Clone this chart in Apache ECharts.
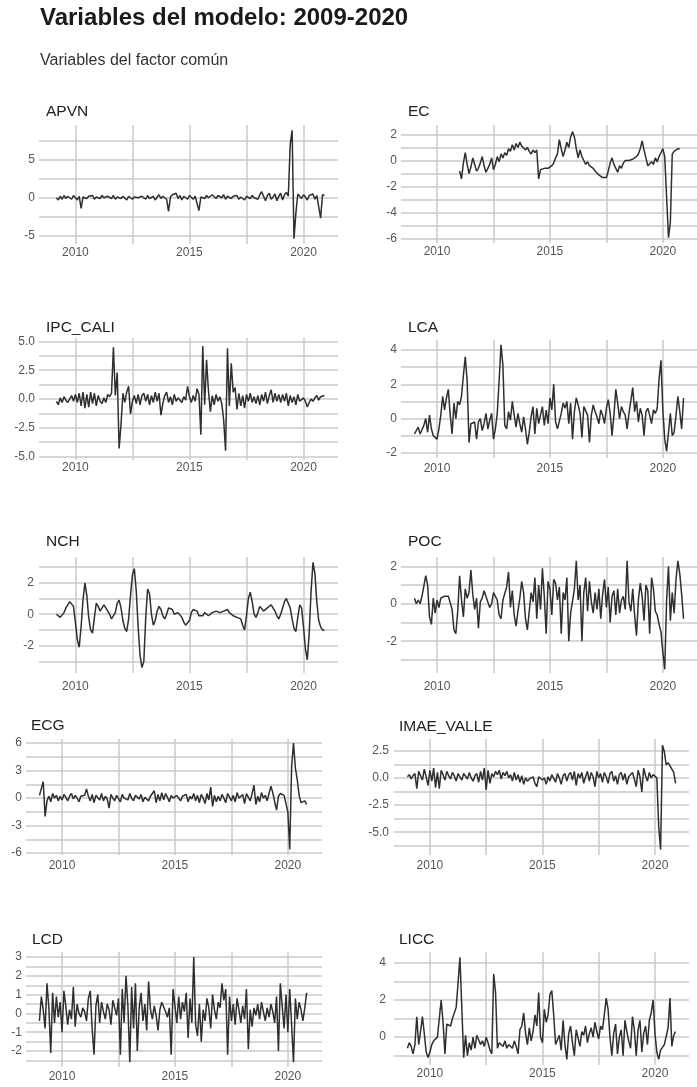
<!DOCTYPE html>
<html><head><meta charset="utf-8">
<script src="https://cdn.jsdelivr.net/npm/echarts@6/dist/echarts.min.js"></script>
<style>html,body{margin:0;padding:0;background:#fff}#c{width:697px;height:1087px}</style>
</head><body><div id="c"></div>
<script>
// Monthly observations, Jan 2009 .. Dec 2020 (12 values per row = one year)
const startYear = 2009;

const APVN = [
 null, null, 0.0, -0.3, 0.2, -0.2, 0.3, -0.1, 0.2, 0.1, -0.2, 0.3,
 0.1, -0.3, 0.2, -1.4, 0.1, 0.3, -0.1, 0.2, 0.0, 0.3, -0.2, 0.1,
 0.2, -0.1, 0.3, 0.0, -0.2, 0.2, 0.1, -0.1, 0.3, -0.2, 0.1, 0.2,
 -0.1, 0.2, 0.0, -0.3, 0.2, 0.1, -0.2, 0.1, 0.3, 0.0, -0.2, 0.2,
 0.1, -0.2, 0.3, -0.1, 0.0, 0.2, -0.3, 0.1, 0.4, -0.1, 0.2, 0.0,
 -0.2, -1.8, 0.1, 0.4, 0.2, 0.6, -0.1, 0.3, -0.3, 0.2, 0.0, -0.2,
 0.3, 0.1, -0.2, 0.2, 0.0, -1.7, 0.1, 0.2, -0.1, 0.3, 0.0, 0.1,
 0.4, 0.2, -0.1, 0.3, 0.1, 0.0, 0.4, -0.2, 0.2, 0.3, -0.1, 0.2,
 0.0, 0.3, -0.2, 0.1, 0.2, -0.3, 0.2, 0.1, -0.1, 0.3, 0.0, 0.2,
 -0.2, 0.4, 0.8, 0.2, -0.4, 0.3, 0.6, -0.2, 0.1, 0.5, -0.4, 0.2,
 0.6, -0.3, 0.4, 0.7, 0.2, 7.0, 8.9, -5.4, -2.0, 0.5, 0.2, -0.1,
 0.4, 0.1, -0.3, 0.3, 0.2, 0.5, -0.2, 0.3, 0.5, -2.7, 0.4, 0.3
];
const EC = [
 null, null, null, null, null, null, null, null, null, null, null, null,
 null, null, null, null, null, null, null, null, null, null, null, null,
 -0.8, -1.4, -0.2, 0.6, -0.3, -1.0, -0.5, 0.2, -0.3, -0.8, -0.6, -0.2,
 0.3, -0.4, -0.9, -0.6, -0.3, 0.2, -0.7, -0.3, 0.3, -0.1, 0.5, 0.2,
 0.6, 0.4, 0.9, 0.7, 1.2, 0.8, 1.3, 1.0, 1.4, 1.1, 1.2, 0.8,
 1.0, 0.7, 0.5, 0.8, 0.6, 0.8, -1.4, -0.7, -0.8, -0.6, -0.7, -0.6,
 -0.5, -0.4, -0.2, 0.2, 0.5, 1.6, 0.9, 0.3, 0.8, 1.4, 1.0, 1.8,
 2.2, 1.8, 0.9, 0.2, 0.8, 0.3, 0.0, -0.3, -0.1, -0.4, -0.5, -0.6,
 -0.8, -0.9, -1.1, -1.2, -1.3, -1.3, -1.3, -0.8, -0.2, 0.2, -0.3, -0.2,
 -0.9, -0.4, -0.6, -0.2, 0.0, -0.1, 0.0, 0.1, 0.1, 0.2, 0.3, 0.5,
 0.9, 1.5, 0.8, 0.2, -0.4, -0.3, -0.1, -0.3, 0.2, -0.1, 0.3, 0.4,
 0.9, 0.3, -2.8, -5.9, -4.7, 0.5, 0.7, 0.8, 0.9, 0.9, null, null
];
const IPC_CALI = [
 null, null, -0.2, -0.5, 0.1, -0.3, 0.2, -0.1, -0.3, 0.0, 0.3, -0.2,
 0.4, -0.3, 0.5, -0.6, 0.6, -0.8, 0.4, -0.7, 0.6, -0.4, 0.5, -0.6,
 0.3, -0.2, -0.4, 0.1, -0.3, 0.4, 0.2, 0.5, 4.5, 0.3, 2.3, -4.3,
 -2.2, 0.5, -0.3, 0.6, 1.1, -1.3, -0.2, 0.3, -0.4, 0.4, -0.5, 0.3,
 0.5, -0.2, 0.4, -0.5, 0.3, -0.3, 0.6, -0.2, 0.5, -1.4, -0.4, 0.3,
 0.6, -0.3, 0.2, -0.5, 0.4, -0.2, 0.1, 0.0, -0.3, 0.2, -0.1, 1.1,
 0.2, -0.3, 0.3, -0.2, 0.9, 0.4, -3.1, 4.6, -0.5, 3.4, 0.7, -1.1,
 0.3, -0.5, 0.4, -0.2, 0.2, -0.4, -1.8, -4.5, 4.4, -0.6, 3.1, 0.6,
 1.0, -0.9, 0.5, -0.6, 0.3, -0.8, 0.4, -0.2, 0.5, -0.3, 0.2, -0.4,
 0.3, -0.5, 0.4, -0.2, 0.6, -0.4, 0.3, 0.8, -0.3, 0.5, -0.2, 0.4,
 -0.3, 0.4, -0.2, 0.5, -0.6, 0.3, -0.3, 0.2, -0.5, 0.4, -0.2, -0.3,
 0.1, -0.2, -0.7, -0.3, 0.0, -0.2, 0.1, 0.3, -0.1, 0.2, 0.1, 0.3
];
const LCA = [
 -0.9, -1.0, -0.5, -0.9, -1.0, -0.4, 0.0, -0.8, 0.2, -0.6, -1.0, -1.1,
 -1.2, -0.6, 0.2, 1.3, 0.5, 1.2, 1.7, 0.2, -0.9, 0.9, 0.0, 1.0,
 0.8, 1.3, 2.5, 3.6, 2.2, -1.4, -0.3, -0.4, -0.2, -1.2, -0.2, 0.0,
 -0.7, -0.3, 0.3, -0.6, -0.1, 0.3, -1.2, -0.6, 0.3, 2.2, 4.3, 3.1,
 -0.4, -0.6, 0.4, -0.1, 1.0, 0.2, -0.5, 0.3, -0.3, -0.8, 0.1, -0.6,
 -1.5, -0.8, 0.1, 0.7, -0.9, 0.6, -0.3, 0.2, 0.7, -0.4, 0.5, -0.3,
 1.2, 0.5, 2.0, -0.2, -0.6, -0.5, 0.3, 0.9, 0.6, 1.0, -0.3, 0.9,
 -1.2, 0.4, 1.2, 0.8, 0.3, -1.1, 0.7, 0.6, 0.2, -1.4, 0.2, 0.8,
 0.4, 0.1, -0.3, 0.5, 0.2, -0.3, 0.6, 1.1, 0.3, -1.0, 0.2, 1.7,
 0.9, 0.0, 0.7, 0.4, 0.2, -0.6, 0.3, 0.4, 1.8, 0.4, 1.0, -0.2,
 0.6, 0.2, -1.0, 0.4, 0.6, 0.2, -0.3, 0.5, 0.3, 0.6, 2.3, 3.4,
 0.5, -1.2, -1.9, -2.0, 0.3, -1.0, -0.8, 0.2, 1.3, 0.4, -0.6, 1.2
];
const NCH = [
 null, null, 0.0, -0.1, -0.2, -0.1, 0.1, 0.4, 0.6, 0.8, 0.9, 0.5,
 -0.5, -1.6, -2.1, -0.8, 0.9, 2.0, 1.2, -0.2, -1.0, -1.2, -0.2, 0.7,
 0.5, 0.2, 0.4, 0.6, 0.4, 0.2, 0.0, -0.3, -0.4, 0.1, 0.7, 0.9,
 0.4, -0.4, -0.9, -1.1, -0.3, 1.2, 2.5, 2.9, 1.5, -0.8, -2.6, -3.4,
 -3.0, -0.2, 1.6, 1.3, 0.0, -0.7, -0.4, 0.2, 0.5, 0.3, -0.1, -0.3,
 0.0, 0.4, 0.5, 0.3, 0.0, -0.1, 0.1, 0.0, -0.2, -0.5, -0.7, -0.8,
 -0.4, 0.1, 0.3, 0.4, 0.2, -0.1, -0.2, -0.1, 0.1, 0.0, -0.1, 0.0,
 0.1, 0.1, 0.2, 0.1, 0.1, 0.2, 0.2, 0.3, 0.3, 0.1, 0.0, -0.1,
 -0.2, -0.2, -0.3, -0.3, -0.7, -1.0, -0.1, 1.0, 1.4, 0.8, 0.0, -0.2,
 0.1, 0.5, 0.4, 0.2, 0.3, 0.4, 0.5, 0.6, 0.6, 0.2, -0.1, -0.3,
 0.0, 0.4, 0.8, 1.0, 1.0, 0.4, -0.3, -0.9, -1.1, -0.2, 0.6, 0.4,
 -0.8, -2.2, -2.9, -1.2, 1.5, 3.3, 2.6, 0.8, -0.4, -0.8, -1.0, -1.0
];
const POC = [
 0.3, 0.0, 0.2, 0.0, 0.4, 0.3, 1.5, 1.0, -0.7, -1.1, 0.3, -0.5,
 0.2, -0.2, 0.3, 0.3, 0.4, 0.3, 0.4, 0.5, -0.3, -1.4, -1.6, -0.4,
 1.5, 0.2, -0.7, 0.8, 0.3, 0.6, 1.8, 0.5, -0.3, 0.3, -1.3, 0.1,
 0.3, 0.7, 0.6, 0.1, -0.2, 0.0, 0.6, 0.7, 0.2, -0.6, -0.8, 0.2,
 0.3, 0.9, 1.7, -0.2, 0.7, -0.6, -1.2, -0.4, 0.3, 1.2, 0.6, -0.8,
 -1.4, -1.3, 0.6, 0.1, 1.4, -0.8, 1.0, -0.3, 1.9, 0.4, -1.6, 1.2,
 0.8, -0.6, 1.3, 1.1, 0.2, 0.9, -1.6, 0.6, 0.2, 1.4, -2.0, -0.5,
 -0.5, 0.8, 2.3, 0.2, 1.0, -2.0, 0.6, 1.4, -0.4, 1.2, 0.1, -0.5,
 0.6, -0.3, 0.8, -0.8, 0.5, 1.3, -0.2, 0.9, -1.0, 0.4, 0.7, -0.6,
 0.8, -0.5, 0.2, 0.4, -0.3, 2.3, 0.1, -0.4, 0.8, -0.6, -1.7, 0.2,
 1.1, 0.4, -0.9, 1.0, 0.7, -1.6, 1.4, 0.8, -0.4, -0.6, -1.1, -1.5,
 -2.6, -3.5, 0.2, 2.0, -0.9, 0.6, -0.5, 1.3, 2.3, 1.6, 0.5, -0.8
];
const ECG = [
 0.3, 0.4, 1.8, -2.0, -0.3, 0.2, -0.4, 0.5, 0.0, 0.3, -0.3, 0.2,
 -0.2, 0.4, 0.1, -0.3, 0.2, 0.5, -0.1, 0.3, 0.0, -0.4, 0.2, 0.1,
 0.3, 1.0, 0.2, -0.3, 0.4, -0.5, 0.3, 0.1, -0.2, 0.5, -0.3, 0.2,
 -0.1, -1.1, 0.4, 0.0, -0.3, 0.3, 0.1, -0.4, 0.4, 0.0, 0.2, -0.2,
 0.5, 0.0, -0.3, 0.3, 0.2, -0.1, 0.4, -0.4, 0.1, 0.3, -0.3, 0.2,
 0.0, 0.8, -0.5, 0.4, -0.3, 0.6, -0.2, 0.5, 0.1, -0.4, 0.3, 0.0,
 -0.2, 0.3, 0.1, -0.3, 0.2, 0.0, 0.4, -0.4, 0.2, -0.1, 0.5, -0.3,
 0.3, -0.5, 0.4, 0.0, -0.6, 0.5, -0.2, 1.2, -0.9, 0.3, -0.4, 0.2,
 -0.3, 0.4, 0.0, -0.5, 0.5, 0.1, -0.3, 0.3, -0.4, 0.6, 0.0, -0.2,
 0.4, -0.6, 0.5, 0.1, -0.3, 0.5, 1.4, -0.7, 0.2, -0.4, 0.6, 0.0,
 0.3, -0.3, 0.5, 1.3, 0.6, -0.4, -1.3, 0.2, 0.5, 0.4, 0.3, 0.5,
 -1.5, -5.6, 3.4, 6.0, 3.3, 2.0, 0.3, -0.5, -0.6, -0.3, -0.7, null
];
const IMAE_VALLE = [
 0.1, 0.3, -0.1, 0.2, 0.4, -1.0, 0.6, 0.2, -0.2, 0.8, 0.1, -0.7,
 0.7, -0.3, 0.9, -0.9, 0.5, -1.0, 0.7, 0.3, -0.2, 0.6, 0.2, -0.1,
 0.5, 0.2, -0.3, 0.4, 0.1, -0.2, 0.4, 0.3, -0.1, 0.5, 0.0, -0.3,
 0.2, 0.4, -0.4, 0.6, -0.2, 0.9, -1.1, 0.7, -0.5, 0.4, 0.1, 0.6,
 0.3, 0.7, -0.1, 0.5, 0.2, 0.6, 0.0, 0.3, -0.3, 0.5, -0.2, 0.3,
 -0.4, 0.2, -0.6, 0.0, -0.3, -0.1, -0.2, 0.1, -0.5, -0.8, 0.1, 0.0,
 -0.2, 0.0, -0.6, 0.1, -0.3, 0.3, 0.2, -0.4, 0.4, 0.0, -0.6, 0.2,
 0.4, -0.3, 0.3, 0.5, -0.2, 0.6, -0.7, 0.4, 0.0, 0.5, -0.5, 0.1,
 0.6, -0.3, 0.5, 0.1, -0.8, 0.6, 0.0, 0.4, -0.4, 0.5, 0.1, -0.5,
 0.4, 0.6, -0.3, 0.2, -0.6, 0.3, 0.5, -0.2, 0.4, -0.6, 0.1, 0.3,
 0.5, -0.1, -0.8, 0.7, 0.1, -1.3, 0.9, 0.2, -0.3, 0.5, 0.0, 0.3,
 0.3, 0.0, -4.5, -6.6, 3.0, 2.4, 1.2, 1.4, 1.3, 0.8, 0.5, -0.5
];
const LCD = [
 -0.4, 0.9, 0.2, -0.8, 1.6, 0.3, -2.1, 1.1, -0.5, 0.9, -0.2, 0.6,
 -1.0, 1.2, 0.4, -0.6, 0.2, -0.3, 1.4, -0.7, 0.5, 0.0, -0.2, 0.3,
 0.1, -0.4, 0.8, 1.2, -0.8, -2.2, 0.4, 1.0, -0.5, 0.6, 0.1, -0.3,
 0.5, 0.2, -0.6, 0.7, 0.3, -0.1, 0.8, -2.2, 1.3, -0.5, 2.0, 0.4,
 -2.6, 1.4, -0.8, 1.6, -2.0, 0.3, 1.1, -0.4, 0.5, -0.9, 1.7, 0.2,
 -0.3, 0.4, -0.1, -0.9, 0.2, 0.6, 0.5, 0.1, -0.2, 0.3, -2.2, 1.3,
 0.4, -0.5, 0.9, -0.3, 0.6, 0.1, 1.1, -1.3, 0.8, -0.5, 3.0, -0.6,
 -1.2, 0.5, -1.5, 0.2, -0.4, 0.8, 0.3, -0.8, 1.0, 0.2, -0.3, 0.6,
 0.3, 1.6, 0.7, 1.3, -2.2, 0.9, -0.4, 0.5, -0.6, 0.8, 0.2, -0.5,
 0.4, -0.3, 1.3, -1.9, 0.2, -0.7, 0.3, -0.1, 0.5, -0.3, 0.6, 0.1,
 -0.4, 0.3, -0.2, 0.5, 0.1, -0.5, 0.9, -2.0, 1.6, 0.4, -0.8, 1.0,
 -1.0, 1.3, -0.6, -2.6, 0.8, -0.3, 0.6, 0.2, -0.4, 0.3, 1.1, null
];
const LICC = [
 -0.6, -0.3, -0.5, -0.9, -0.4, 1.1, -0.4, 0.3, 1.1, 0.2, -0.8, -1.1,
 -0.8, -0.4, -0.2, -0.1, 0.0, 0.1, 2.0, 0.8, -0.9, 0.7, 0.8, 0.6,
 1.0, 0.9, 1.6, 2.9, 4.3, 4.3, -1.1, 0.1, -1.0, -0.3, -0.7, 0.0,
 -0.6, 0.1, 0.0, -0.4, -0.2, -0.5, 0.0, -0.3, -0.7, -0.9, 3.4, 2.4,
 -0.6, -0.3, -0.2, -0.5, -0.2, -0.6, -0.4, -0.3, -0.6, -0.2, -0.5, -0.9,
 0.4, 0.6, 1.3, 0.2, -0.4, 0.5, -0.2, 0.3, 1.2, 0.6, 2.4, 0.0,
 -0.3, 1.5, 0.8, 1.2, 2.3, 2.5, 1.2, -0.4, -0.3, 0.1, -0.7, 0.9,
 -0.4, -1.2, 0.2, 0.6, -0.3, -1.0, 0.4, 0.5, -0.5, 0.3, 0.1, 0.6,
 -0.3, 0.2, 0.5, 0.0, 0.8, 0.3, -0.1, 0.6, 0.4, 1.2, 2.1, 1.5,
 0.0, -1.0, 0.2, 0.7, -0.9, 0.0, 0.4, -1.0, 0.9, 0.3, -0.2, -0.6,
 1.1, 0.4, -1.0, 0.4, 0.9, -0.8, 0.2, 0.6, -0.4, 0.9, 1.3, 2.0,
 0.2, -0.8, -1.2, -0.7, -0.6, -0.4, -0.5, 0.5, 2.1, -0.5, 0.1, 0.3
];

// Axis ticks
const xGridYears  = [2010, 2012.5, 2015, 2017.5, 2020];
const xLabelYears = [2010, 2015, 2020];
const APVN_yGrid = [-5, -2.5, 0, 2.5, 5, 7.5];           const APVN_yLabels = [-5, 0, 5];
const EC_yGrid = [-6, -5, -4, -3, -2, -1, 0, 1, 2];      const EC_yLabels = [-6, -4, -2, 0, 2];
const IPC_yGrid = [-5, -3.75, -2.5, -1.25, 0, 1.25, 2.5, 3.75, 5]; const IPC_yLabels = [-5, -2.5, 0, 2.5, 5];
const LCA_yGrid = [-2, -1, 0, 1, 2, 3, 4];               const LCA_yLabels = [-2, 0, 2, 4];
const NCH_yGrid = [-3, -2, -1, 0, 1, 2, 3];              const NCH_yLabels = [-2, 0, 2];
const POC_yGrid = [-3, -2, -1, 0, 1, 2];                 const POC_yLabels = [-2, 0, 2];
const ECG_yGrid = [-6, -4.5, -3, -1.5, 0, 1.5, 3, 4.5, 6]; const ECG_yLabels = [-6, -3, 0, 3, 6];
const IMAE_yGrid = [-6.25, -5, -3.75, -2.5, -1.25, 0, 1.25, 2.5]; const IMAE_yLabels = [-5, -2.5, 0, 2.5];
const LCD_yGrid = [-2.5, -2, -1.5, -1, -0.5, 0, 0.5, 1, 1.5, 2, 2.5, 3]; const LCD_yLabels = [-2, -1, 0, 1, 2, 3];
const LICC_yGrid = [-1, 0, 1, 2, 3, 4];                  const LICC_yLabels = [0, 2, 4];

// Layout (positions / sizes only)
const panels = [
 {name:'APVN', values:APVN, yGrid:APVN_yGrid, yLabels:APVN_yLabels, yMin:-6.1, yMax:9.6, dec:0, box:[39,125,299,119], xm:3, ym:4, tp:[46,104]},
 {name:'EC', values:EC, yGrid:EC_yGrid, yLabels:EC_yLabels, yMin:-6.3, yMax:2.71, dec:0, box:[401,125,298,118], xm:3, ym:4, tp:[408,104]},
 {name:'IPC_CALI', values:IPC_CALI, yGrid:IPC_yGrid, yLabels:IPC_yLabels, yMin:-5.3, yMax:5.3, dec:1, box:[39,338,299,122], xm:2, ym:4, tp:[46,320]},
 {name:'LCA', values:LCA, yGrid:LCA_yGrid, yLabels:LCA_yLabels, yMin:-2.3, yMax:4.58, dec:0, box:[401,340,298,118], xm:4.5, ym:4, tp:[408,320]},
 {name:'NCH', values:NCH, yGrid:NCH_yGrid, yLabels:NCH_yLabels, yMin:-3.74, yMax:3.64, dec:0, box:[39,557,299,116], xm:7.5, ym:5, tp:[46,534]},
 {name:'POC', values:POC, yGrid:POC_yGrid, yLabels:POC_yLabels, yMin:-3.7, yMax:2.5, dec:0, box:[401,557,298,116], xm:7.5, ym:4, tp:[408,534]},
 {name:'ECG', values:ECG, yGrid:ECG_yGrid, yLabels:ECG_yLabels, yMin:-6.2, yMax:6.44, dec:0, box:[26,739,296,116], xm:5, ym:4, tp:[31,718]},
 {name:'IMAE_VALLE', values:IMAE_VALLE, yGrid:IMAE_yGrid, yLabels:IMAE_yLabels, yMin:-7.1, yMax:3.58, dec:1, box:[394,739,295,116], xm:4.5, ym:5, tp:[399,719]},
 {name:'LCD', values:LCD, yGrid:LCD_yGrid, yLabels:LCD_yLabels, yMin:-2.85, yMax:3.27, dec:0, box:[26,952,296,115], xm:4, ym:4, tp:[32,932]},
 {name:'LICC', values:LICC, yGrid:LICC_yGrid, yLabels:LICC_yLabels, yMin:-1.5, yMax:4.58, dec:0, box:[394,952,295,113], xm:2.5, ym:8, tp:[399,932]}
];

const FONT = "'Liberation Sans', Arial, Helvetica, sans-serif";
const GRIDC = '#cacaca';
const LBLC = '#555555';
const span = 143 / 12;                       // data span in years
const xMin = startYear - 0.05 * span;        // ggplot-style 5% expansion
const xMax = startYear + 1.05 * span;

const titles = [
 {text:'Variables del modelo: 2009-2020', left:40, top:6, padding:0,
  textStyle:{fontFamily:FONT, fontSize:24, fontWeight:'bold', color:'#1a1a1a'}},
 {text:'Variables del factor común', left:40, top:53, padding:0,
  textStyle:{fontFamily:FONT, fontSize:16, fontWeight:'normal', color:'#333'}}
].concat(panels.map(p => ({text:p.name, left:p.tp[0], top:p.tp[1], padding:0,
  textStyle:{fontFamily:FONT, fontSize:15.5, fontWeight:'normal', color:'#222'}})));

const option = {
 animation:false,
 backgroundColor:'#ffffff',
 textStyle:{fontFamily:FONT},
 title:titles,
 grid:panels.map(p => ({left:p.box[0], top:p.box[1], width:p.box[2], height:p.box[3], containLabel:false, show:false})),
 xAxis:panels.map((p,k) => ({
   type:'value', gridIndex:k, min:xMin, max:xMax,
   axisLine:{show:false}, axisTick:{show:false, customValues:xGridYears},
   splitLine:{show:true, lineStyle:{color:GRIDC, width:1.5}},
   minorSplitLine:{show:false},
   axisLabel:{customValues:xLabelYears, formatter:v => String(Math.round(v)), color:LBLC, fontSize:12, fontFamily:FONT, margin:p.xm}
 })),
 yAxis:panels.map((p,k) => ({
   type:'value', gridIndex:k, min:p.yMin, max:p.yMax,
   axisLine:{show:false}, axisTick:{show:false, customValues:p.yGrid},
   splitLine:{show:true, lineStyle:{color:GRIDC, width:1.5}},
   axisLabel:{customValues:p.yLabels, formatter:v => Number(v).toFixed(p.dec), color:LBLC, fontSize:12, fontFamily:FONT, margin:p.ym}
 })),
 series:panels.map((p,k) => ({
   type:'line', name:p.name, xAxisIndex:k, yAxisIndex:k,
   data:p.values.map((v,i) => [startYear + i/12, v]),
   showSymbol:false, symbol:'none', connectNulls:false, silent:true,
   lineStyle:{color:'#2f2f2f', width:1.5}
 }))
};

const chart = echarts.init(document.getElementById('c'), null, {renderer:'canvas'});
chart.setOption(option);
</script>
</body></html>
